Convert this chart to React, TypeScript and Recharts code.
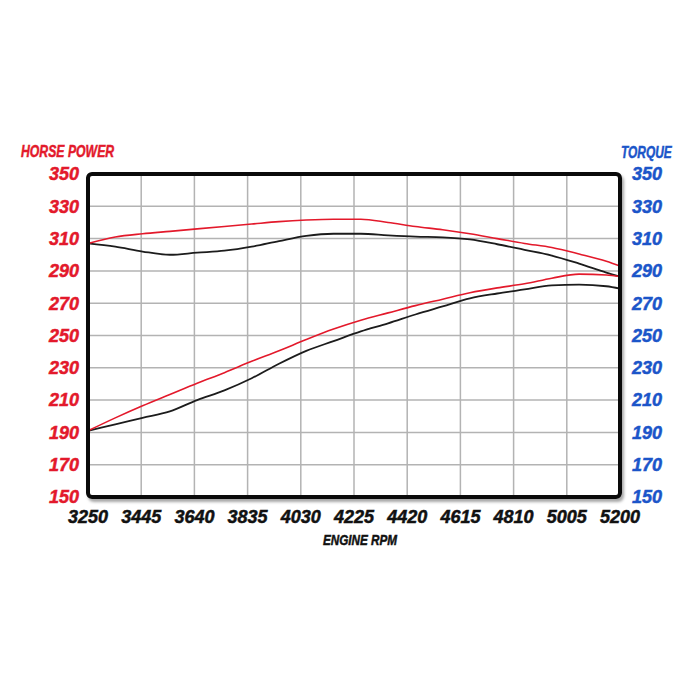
import { LineChart, Line, XAxis, YAxis, CartesianGrid } from "recharts";

/* ---------- data ---------- */

const rpm = [
  3250, 3350, 3450, 3550, 3650, 3750, 3850, 3950, 4050, 4150, 4250, 4350,
  4450, 4550, 4650, 4750, 4850, 4950, 5050, 5150, 5200,
];

// rising pair = horsepower
const hpStock = [
  191, 195, 199, 203, 210, 216, 223.5, 232.5, 240.5, 246.5, 252.5, 257.5,
  263, 268, 273, 276, 278.5, 281, 281.5, 280.5, 279,
];
const hpTuned = [
  191, 199, 206.5, 213.5, 220.5, 227, 234, 240.5, 247.5, 254, 259.5, 264,
  268.5, 272.5, 276.5, 279.5, 282, 285.5, 288, 287.5, 286.5,
];

// flat pair = torque
const tqStock = [
  307, 305, 302, 300, 301.3, 302.5, 305, 308.5, 311.7, 313, 313, 312, 311.2,
  310.8, 309.5, 306.5, 303, 299.5, 294.5, 289, 286.5,
];
const tqTuned = [
  307, 311, 313, 314.5, 316, 317.5, 319, 320.5, 321.5, 322, 322, 320, 317.5,
  315.5, 313, 310, 307, 304.5, 300.5, 296, 293,
];

const rpmTicks = [
  3250, 3445, 3640, 3835, 4030, 4225, 4420, 4615, 4810, 5005, 5200,
];
const valueTicks = [150, 170, 190, 210, 230, 250, 270, 290, 310, 330, 350];

const rows = rpm.map((r, i) => ({
  rpm: r,
  hpStock: hpStock[i],
  hpTuned: hpTuned[i],
  tqStock: tqStock[i],
  tqTuned: tqTuned[i],
}));

/* ---------- styles ---------- */

const RED = "#e3192b";
const BLUE = "#1b55c9";
const INK = "#111";
const FONT = "'Liberation Sans', Arial, sans-serif";

const tickFont = (color: string) => ({
  fontFamily: FONT,
  fontWeight: 700,
  fontStyle: "italic",
  fontSize: 18,
  fill: color,
  stroke: color,
  strokeWidth: 0.5,
});

const titleStyle = (left: number, top: number, color: string, size: number, sx: number) => ({
  position: "absolute" as const,
  left,
  top,
  color,
  fontFamily: FONT,
  fontWeight: 700,
  fontStyle: "italic",
  fontSize: size,
  lineHeight: 1,
  whiteSpace: "nowrap" as const,
  WebkitTextStroke: `0.5px ${color}`,
  transform: `scaleX(${sx})`,
  transformOrigin: "left top",
});

export default function App() {
  return (
    <div style={{ position: "relative", width: 700, height: 700, background: "#fff" }}>
      <style>{"body{margin:0}"}</style>
      <LineChart
        width={700}
        height={700}
        data={rows}
        margin={{ top: 174, right: 0, bottom: 0, left: 0 }}
      >
        <CartesianGrid yAxisId="hp" stroke="#b3b3b3" strokeWidth={1.5} />
        <XAxis
          dataKey="rpm"
          type="number"
          domain={[3250, 5200]}
          ticks={rpmTicks}
          interval={0}
          height={203}
          axisLine={false}
          tickLine={false}
          tickSize={0}
          tickMargin={13}
          tick={tickFont(INK)}
        />
        <YAxis
          yAxisId="hp"
          orientation="left"
          domain={[150, 350]}
          ticks={valueTicks}
          interval={0}
          width={88}
          axisLine={false}
          tickLine={false}
          tickSize={0}
          tickMargin={9}
          tick={tickFont(RED)}
        />
        <YAxis
          yAxisId="tq"
          orientation="right"
          domain={[150, 350]}
          ticks={valueTicks}
          interval={0}
          width={80}
          axisLine={false}
          tickLine={false}
          tickSize={0}
          tickMargin={12}
          tick={tickFont(BLUE)}
        />
        <Line
          yAxisId="tq"
          type="monotone"
          dataKey="tqStock"
          stroke="#1c1c1c"
          strokeWidth={1.8}
          dot={false}
          isAnimationActive={false}
        />
        <Line
          yAxisId="tq"
          type="monotone"
          dataKey="tqTuned"
          stroke={RED}
          strokeWidth={1.6}
          dot={false}
          isAnimationActive={false}
        />
        <Line
          yAxisId="hp"
          type="monotone"
          dataKey="hpStock"
          stroke="#1c1c1c"
          strokeWidth={1.8}
          dot={false}
          isAnimationActive={false}
        />
        <Line
          yAxisId="hp"
          type="monotone"
          dataKey="hpTuned"
          stroke={RED}
          strokeWidth={1.6}
          dot={false}
          isAnimationActive={false}
        />
      </LineChart>

      {/* heavy plot frame */}
      <div
        style={{
          position: "absolute",
          left: 86,
          top: 172,
          width: 536,
          height: 327,
          boxSizing: "border-box",
          border: "4px solid #0a0a0a",
          borderRadius: 6,
          boxShadow: "2px 3px 3px rgba(0,0,0,0.35)",
          pointerEvents: "none",
        }}
      />

      <div style={titleStyle(21, 143, RED, 17, 0.72)}>HORSE POWER</div>
      <div style={titleStyle(621, 144, BLUE, 17, 0.7)}>TORQUE</div>
      <div style={titleStyle(323, 532, INK, 15, 0.78)}>ENGINE RPM</div>
    </div>
  );
}
